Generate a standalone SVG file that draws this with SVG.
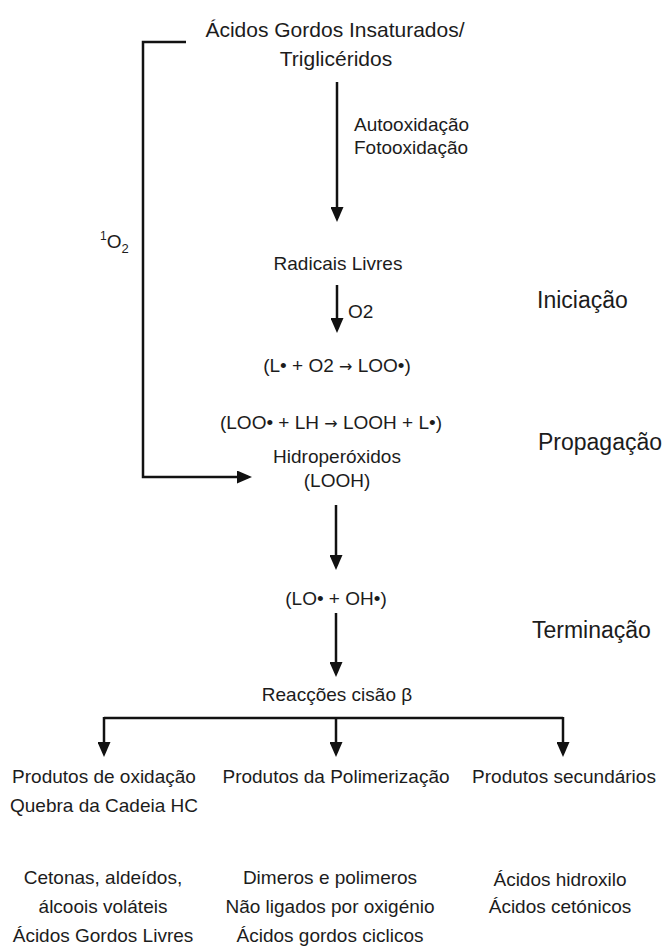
<svg xmlns="http://www.w3.org/2000/svg" width="668" height="949" viewBox="0 0 668 949">
<defs>
<style>
text{font-family:"Liberation Sans",Arial,sans-serif;font-size:19px;fill:#1c1c1c}
.c{text-anchor:middle}
.t{font-size:21px}
.s{font-size:23px}
.ar{font-family:"DejaVu Sans",sans-serif;font-size:16px}
.ln{fill:none;stroke:#111;stroke-width:2.5}
</style>
<marker id="ah" viewBox="0 0 15 13" markerWidth="15" markerHeight="13" refX="11" refY="6.5" markerUnits="userSpaceOnUse" orient="auto">
<path d="M0,0 L15,6.5 L0,13 z" fill="#111"/>
</marker>
</defs>
<rect width="668" height="949" fill="#fff"/>
<g id="connectors">
<path class="ln" d="M337,82 V218" marker-end="url(#ah)"/>
<path class="ln" d="M337,285 V329" marker-end="url(#ah)"/>
<path class="ln" d="M186,42 H143 V477 H248" marker-end="url(#ah)"/>
<path class="ln" d="M336,505 V566" marker-end="url(#ah)"/>
<path class="ln" d="M336,613 V673" marker-end="url(#ah)"/>
<path class="ln" d="M104,718 H563"/>
<path class="ln" d="M104,717 V753" marker-end="url(#ah)"/>
<path class="ln" d="M336,717 V753" marker-end="url(#ah)"/>
<path class="ln" d="M563,717 V753" marker-end="url(#ah)"/>
</g>
<g id="n-acidos"><text class="c t" x="335" y="37">Ácidos Gordos Insaturados/</text><text class="c t" x="336" y="66">Triglicéridos</text></g>
<g id="l-auto"><text x="354" y="131">Autooxidação</text><text x="354" y="154">Fotooxidação</text></g>
<g id="l-1o2"><text x="100" y="248"><tspan font-size="12" dy="-8">1</tspan><tspan dy="8">O</tspan><tspan font-size="13" dy="5">2</tspan></text></g>
<g id="n-radicais"><text class="c" x="338" y="270">Radicais Livres</text></g>
<g id="l-o2"><text x="348" y="318">O2</text></g>
<g id="n-r1"><text class="c" x="337" y="372">(L• + O2 <tspan class="ar">→</tspan> LOO•)</text></g>
<g id="n-r2"><text class="c" x="331" y="429">(LOO• + LH <tspan class="ar">→</tspan> LOOH + L•)</text></g>
<g id="n-hidro"><text class="c" x="337" y="463">Hidroperóxidos</text><text class="c" x="337" y="487">(LOOH)</text></g>
<g id="n-lo"><text class="c" x="336" y="605">(LO• + OH•)</text></g>
<g id="n-reac"><text class="c" x="337" y="701">Reacções cisão β</text></g>
<g id="s-ini"><text class="s" x="537" y="308">Iniciação</text></g>
<g id="s-prop"><text class="s" x="538" y="450">Propagação</text></g>
<g id="s-term"><text class="s" x="532" y="638">Terminação</text></g>
<g id="n-oxid"><text class="c" x="104" y="783">Produtos de oxidação</text><text class="c" x="104" y="812">Quebra da Cadeia HC</text></g>
<g id="n-polim"><text class="c" x="336" y="783">Produtos da Polimerização</text></g>
<g id="n-sec"><text class="c" x="564" y="783">Produtos secundários</text></g>
<g id="n-oxid-ex"><text class="c" x="103" y="884">Cetonas, aldeídos,</text><text class="c" x="103" y="913">álcoois voláteis</text><text class="c" x="103" y="942">Ácidos Gordos Livres</text></g>
<g id="n-polim-ex"><text class="c" x="330" y="884">Dimeros e polimeros</text><text class="c" x="330" y="913">Não ligados por oxigénio</text><text class="c" x="330" y="942">Ácidos gordos ciclicos</text></g>
<g id="n-sec-ex"><text class="c" x="560" y="886">Ácidos hidroxilo</text><text class="c" x="560" y="913">Ácidos cetónicos</text></g>
</svg>
